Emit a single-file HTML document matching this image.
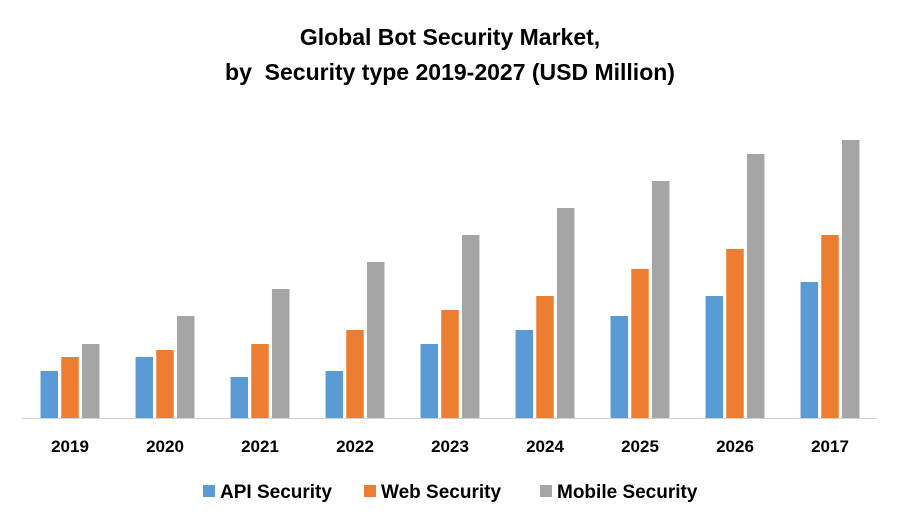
<!DOCTYPE html>
<html><head><meta charset="utf-8"><style>
body{margin:0;background:#fff;font-family:"Liberation Sans",Arial,sans-serif}
</style></head><body>
<svg width="900" height="525" xmlns="http://www.w3.org/2000/svg">
<text x="450" y="45" text-anchor="middle" font-size="23" font-weight="bold" fill="#000">Global Bot Security Market,</text>
<text x="450" y="80" text-anchor="middle" font-size="23" font-weight="bold" fill="#000">by&#160; Security type 2019-2027 (USD Million)</text>
<g id="bars"></g>
<line x1="22" y1="418.5" x2="877" y2="418.5" stroke="#d0d0d0" stroke-width="1"/>
<g id="xlabels"></g>
<g>
<rect x="203" y="485" width="12" height="12" fill="#5b9bd5"/>
<text x="220" y="498" font-size="19" font-weight="bold">API Security</text>
<rect x="364" y="485" width="12" height="12" fill="#ed7d31"/>
<text x="381" y="498" font-size="19" font-weight="bold">Web Security</text>
<rect x="540" y="485" width="12" height="12" fill="#a5a5a5"/>
<text x="557" y="498" font-size="19" font-weight="bold">Mobile Security</text>
</g>
</svg>
<script>
const categories=["2019","2020","2021","2022","2023","2024","2025","2026","2017"];
const apiValues=[47,61,41,47,74,88,102,122,136];
const webValues=[61,68,74,88,108,122,149,169,183];
const mobileValues=[74,102,129,156,183,210,237,264,278];
const NS="http://www.w3.org/2000/svg";
const x0=22,x1=877,baseY=418,pxPerUnit=1;
const step=(x1-x0)/categories.length;
function xCenter(i){return x0+step*(i+0.5)+0.5;}
function yScale(v){return baseY-v*pxPerUnit;}
const series=[{vals:apiValues,color:"#5b9bd5",name:"api"},{vals:webValues,color:"#ed7d31",name:"web"},{vals:mobileValues,color:"#a5a5a5",name:"mobile"}];
const bw=17.5,gap=3.2;
const gb=document.getElementById("bars"),gl=document.getElementById("xlabels");
categories.forEach((c,i)=>{
  const cx=xCenter(i);
  series.forEach((s,k)=>{
    const r=document.createElementNS(NS,"rect");
    const left=cx-(1.5*bw+gap)+k*(bw+gap);
    r.setAttribute("x",left);r.setAttribute("y",yScale(s.vals[i]));
    r.setAttribute("width",bw);r.setAttribute("height",baseY-yScale(s.vals[i]));
    r.setAttribute("fill",s.color);
    
    
    gb.appendChild(r);
  });
  const t=document.createElementNS(NS,"text");
  t.setAttribute("x",cx);t.setAttribute("y",452);t.setAttribute("text-anchor","middle");
  t.setAttribute("font-size","17");t.setAttribute("font-weight","bold");
  t.textContent=c;
  
  
  gl.appendChild(t);
});
</script>
</body></html>
